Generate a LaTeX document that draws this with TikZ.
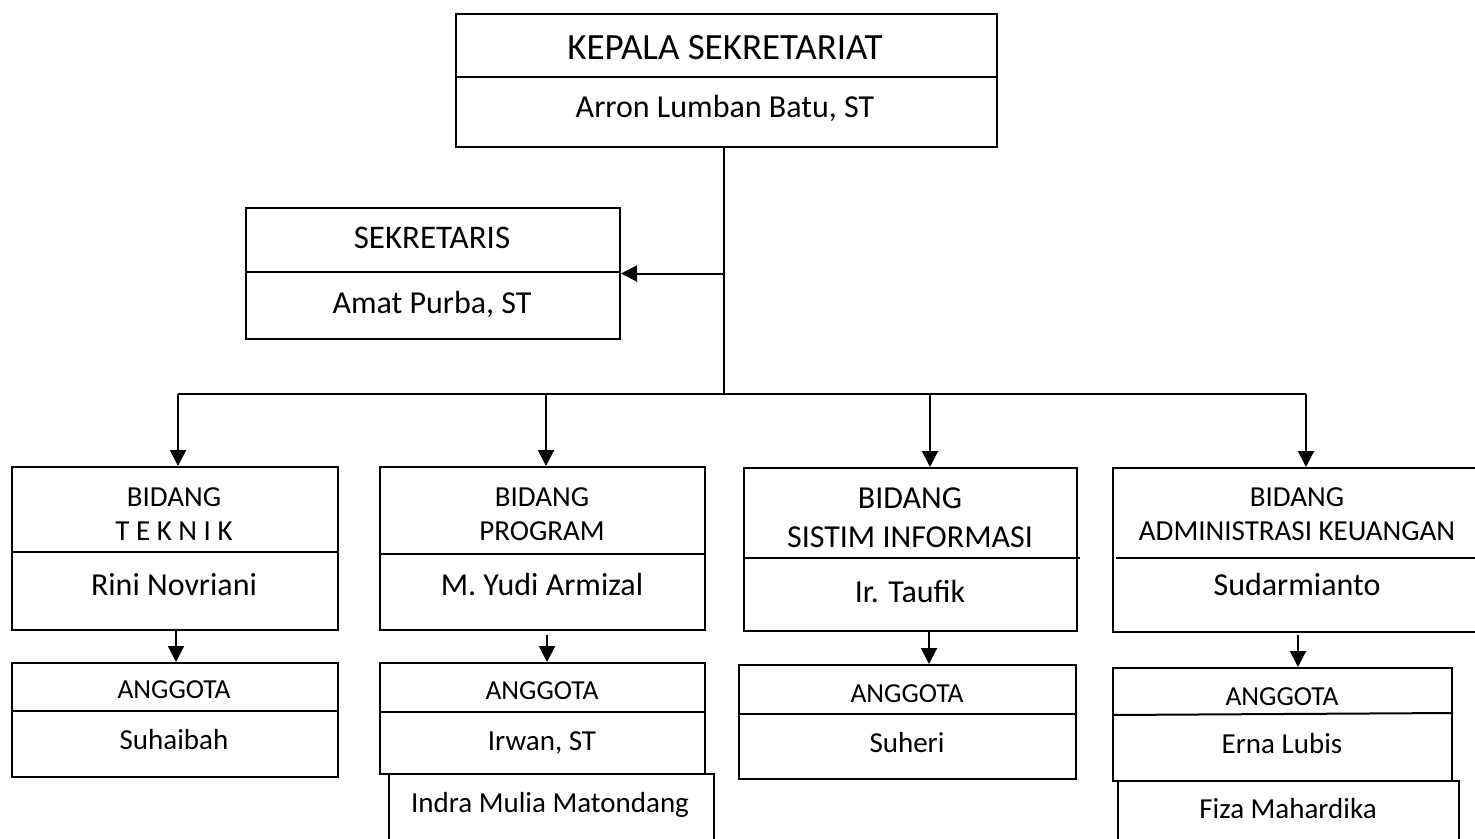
\documentclass[tikz,border=0pt]{standalone}
\usepackage{fontspec}
\setmainfont{Carlito}
\usetikzlibrary{arrows.meta,calc}
\usetikzlibrary{positioning}

\begin{document}
\begin{tikzpicture} [
    x=1pt, y=-1pt,
    box/.style={rectangle, draw=black, line width=2pt, anchor=north west, inner sep=0pt},
    div/.style={line width=2pt},
    txt/.style={anchor=base, inner sep=0pt, align=center},
    bigT/.style={txt, font=\fontsize{37}{44}\selectfont},
    nameT/.style={txt, font=\fontsize{32}{38}\selectfont},
    headT/.style={txt, anchor=center, font=\fontsize{29}{34}\selectfont},
    anggT/.style={txt, font=\fontsize{27.5}{32}\selectfont},
    memT/.style={txt, font=\fontsize{29}{34}\selectfont},
    line width=2pt,
    >={Triangle[length=16pt,width=16pt]}
    ]
    \useasboundingbox (0,0) rectangle (1475,838);
    %Nodes
    \node[box, minimum width=541pt, minimum height=133pt] (kepala)     at (455,13)   {};
    \node[box, minimum width=374pt, minimum height=131pt] (sekretaris) at (245,207)  {};
    \node[box, minimum width=326pt, minimum height=163pt] (teknik)     at (11,466)   {};
    \node[box, minimum width=325pt, minimum height=163pt] (program)    at (379,466)  {};
    \node[box, minimum width=333pt, minimum height=163pt] (sistim)     at (743,467)  {};
    \node[box, minimum width=378pt, minimum height=164pt] (admin)      at (1112,467) {};
    \node[box, minimum width=326pt, minimum height=114pt] (anggotaA)   at (11,662)   {};
    \node[box, minimum width=325pt, minimum height=111pt] (anggotaB)   at (379,662)  {};
    \node[box, minimum width=337pt, minimum height=114pt] (anggotaC)   at (738,664)  {};
    \node[box, minimum width=339pt, minimum height=113pt] (anggotaD)   at (1112,667) {};
    \node[box, minimum width=325pt, minimum height=90pt]  (anggotaBx)  at (388,773)  {};
    \node[box, minimum width=341pt, minimum height=80pt]  (anggotaDx)  at (1117,780) {};
    %Texts
    \node[bigT]  (kepalaT)     at (725,59)    {KEPALA SEKRETARIAT};
    \node[nameT] (kepalaN)     at (725,117)   {Arron Lumban Batu, ST};
    \node[nameT, font=\fontsize{33}{38}\selectfont] (sekretarisT) at (432,248) {SEKRETARIS};
    \node[nameT] (sekretarisN) at (432,313)   {Amat Purba, ST};
    \node[headT] (teknikT)     at (174,514)   {BIDANG\\T E K N I K};
    \node[nameT] (teknikN)     at (174,595)   {Rini Novriani};
    \node[headT] (programT)    at (542,514)   {BIDANG\\PROGRAM};
    \node[nameT] (programN)    at (542,595)   {M. Yudi Armizal};
    \node[headT, font=\fontsize{32}{39}\selectfont] (sistimT) at (910,518) {BIDANG\\SISTIM INFORMASI};
    \node[nameT] (sistimN)     at (910,602)   {Ir. Taufik};
    \node[headT] (adminT)      at (1297,514.5) {BIDANG\\ADMINISTRASI KEUANGAN};
    \node[nameT] (adminN)      at (1297,595)  {Sudarmianto};
    \node[anggT] (anggotaAT)   at (174,698)   {ANGGOTA};
    \node[memT]  (anggotaAN)   at (174,749)   {Suhaibah};
    \node[anggT] (anggotaBT)   at (542,699)   {ANGGOTA};
    \node[memT]  (anggotaBN)   at (542,750)   {Irwan, ST};
    \node[memT]  (anggotaBxN)  at (550,812)   {Indra Mulia Matondang};
    \node[anggT] (anggotaCT)   at (907,702)   {ANGGOTA};
    \node[memT]  (anggotaCN)   at (907,752)   {Suheri};
    \node[anggT] (anggotaDT)   at (1282,705)  {ANGGOTA};
    \node[memT]  (anggotaDN)   at (1282,753)  {Erna Lubis};
    \node[memT]  (anggotaDxN)  at (1288,818)  {Fiza Mahardika};
    %Dividers
    \draw[div] (kepala.west |- 0,77) -- (kepala.east |- 0,77);
    \draw[div] (sekretaris.west |- 0,272) -- (sekretaris.east |- 0,272);
    \draw[div] (teknik.west |- 0,552) -- (teknik.east |- 0,552);
    \draw[div] (program.west |- 0,554) -- (program.east |- 0,554);
    \draw[div] (sistim.west |- 0,558) -- ([xshift=2pt]sistim.east |- 0,558);
    \draw[div] ([xshift=4pt]admin.west |- 0,558) -- (admin.east |- 0,558);
    \draw[div] (anggotaA.west |- 0,711) -- (anggotaA.east |- 0,711);
    \draw[div] (anggotaB.west |- 0,712) -- (anggotaB.east |- 0,712);
    \draw[div] (anggotaC.west |- 0,714) -- (anggotaC.east |- 0,714);
    \draw[div] (anggotaD.west |- 0,715) -- (anggotaD.east |- 0,713);
    %Lines
    \coordinate (hub)   at (724,394);
    \coordinate (dropA) at (178,394);
    \coordinate (dropB) at (546,394);
    \coordinate (dropC) at (930,394);
    \coordinate (dropD) at (1306,394);
    \draw (hub |- kepala.south) -- (hub);
    \draw[->] (hub |- sekretaris.east) -- (sekretaris.east);
    \draw (dropA) -- (dropD);
    \draw[->] (dropA) -- (dropA |- teknik.north);
    \draw[->] (dropB) -- (dropB |- program.north);
    \draw[->] (dropC) -- (dropC |- sistim.north);
    \draw[->] (dropD) -- (dropD |- admin.north);
    \draw[->] ([xshift=1pt]teknik.south) -- ([xshift=1pt]anggotaA.north);
    \draw[->] ([xshift=4.5pt,yshift=-4pt]program.south) -- ([xshift=4.5pt]anggotaB.north);
    \draw[->] ([xshift=18.5pt]sistim.south) -- ([xshift=21.5pt]anggotaC.north);
    \draw[->] ([xshift=-4pt,yshift=-2pt]admin.south) -- ([xshift=15.5pt]anggotaD.north);
\end{tikzpicture}
\end{document}
